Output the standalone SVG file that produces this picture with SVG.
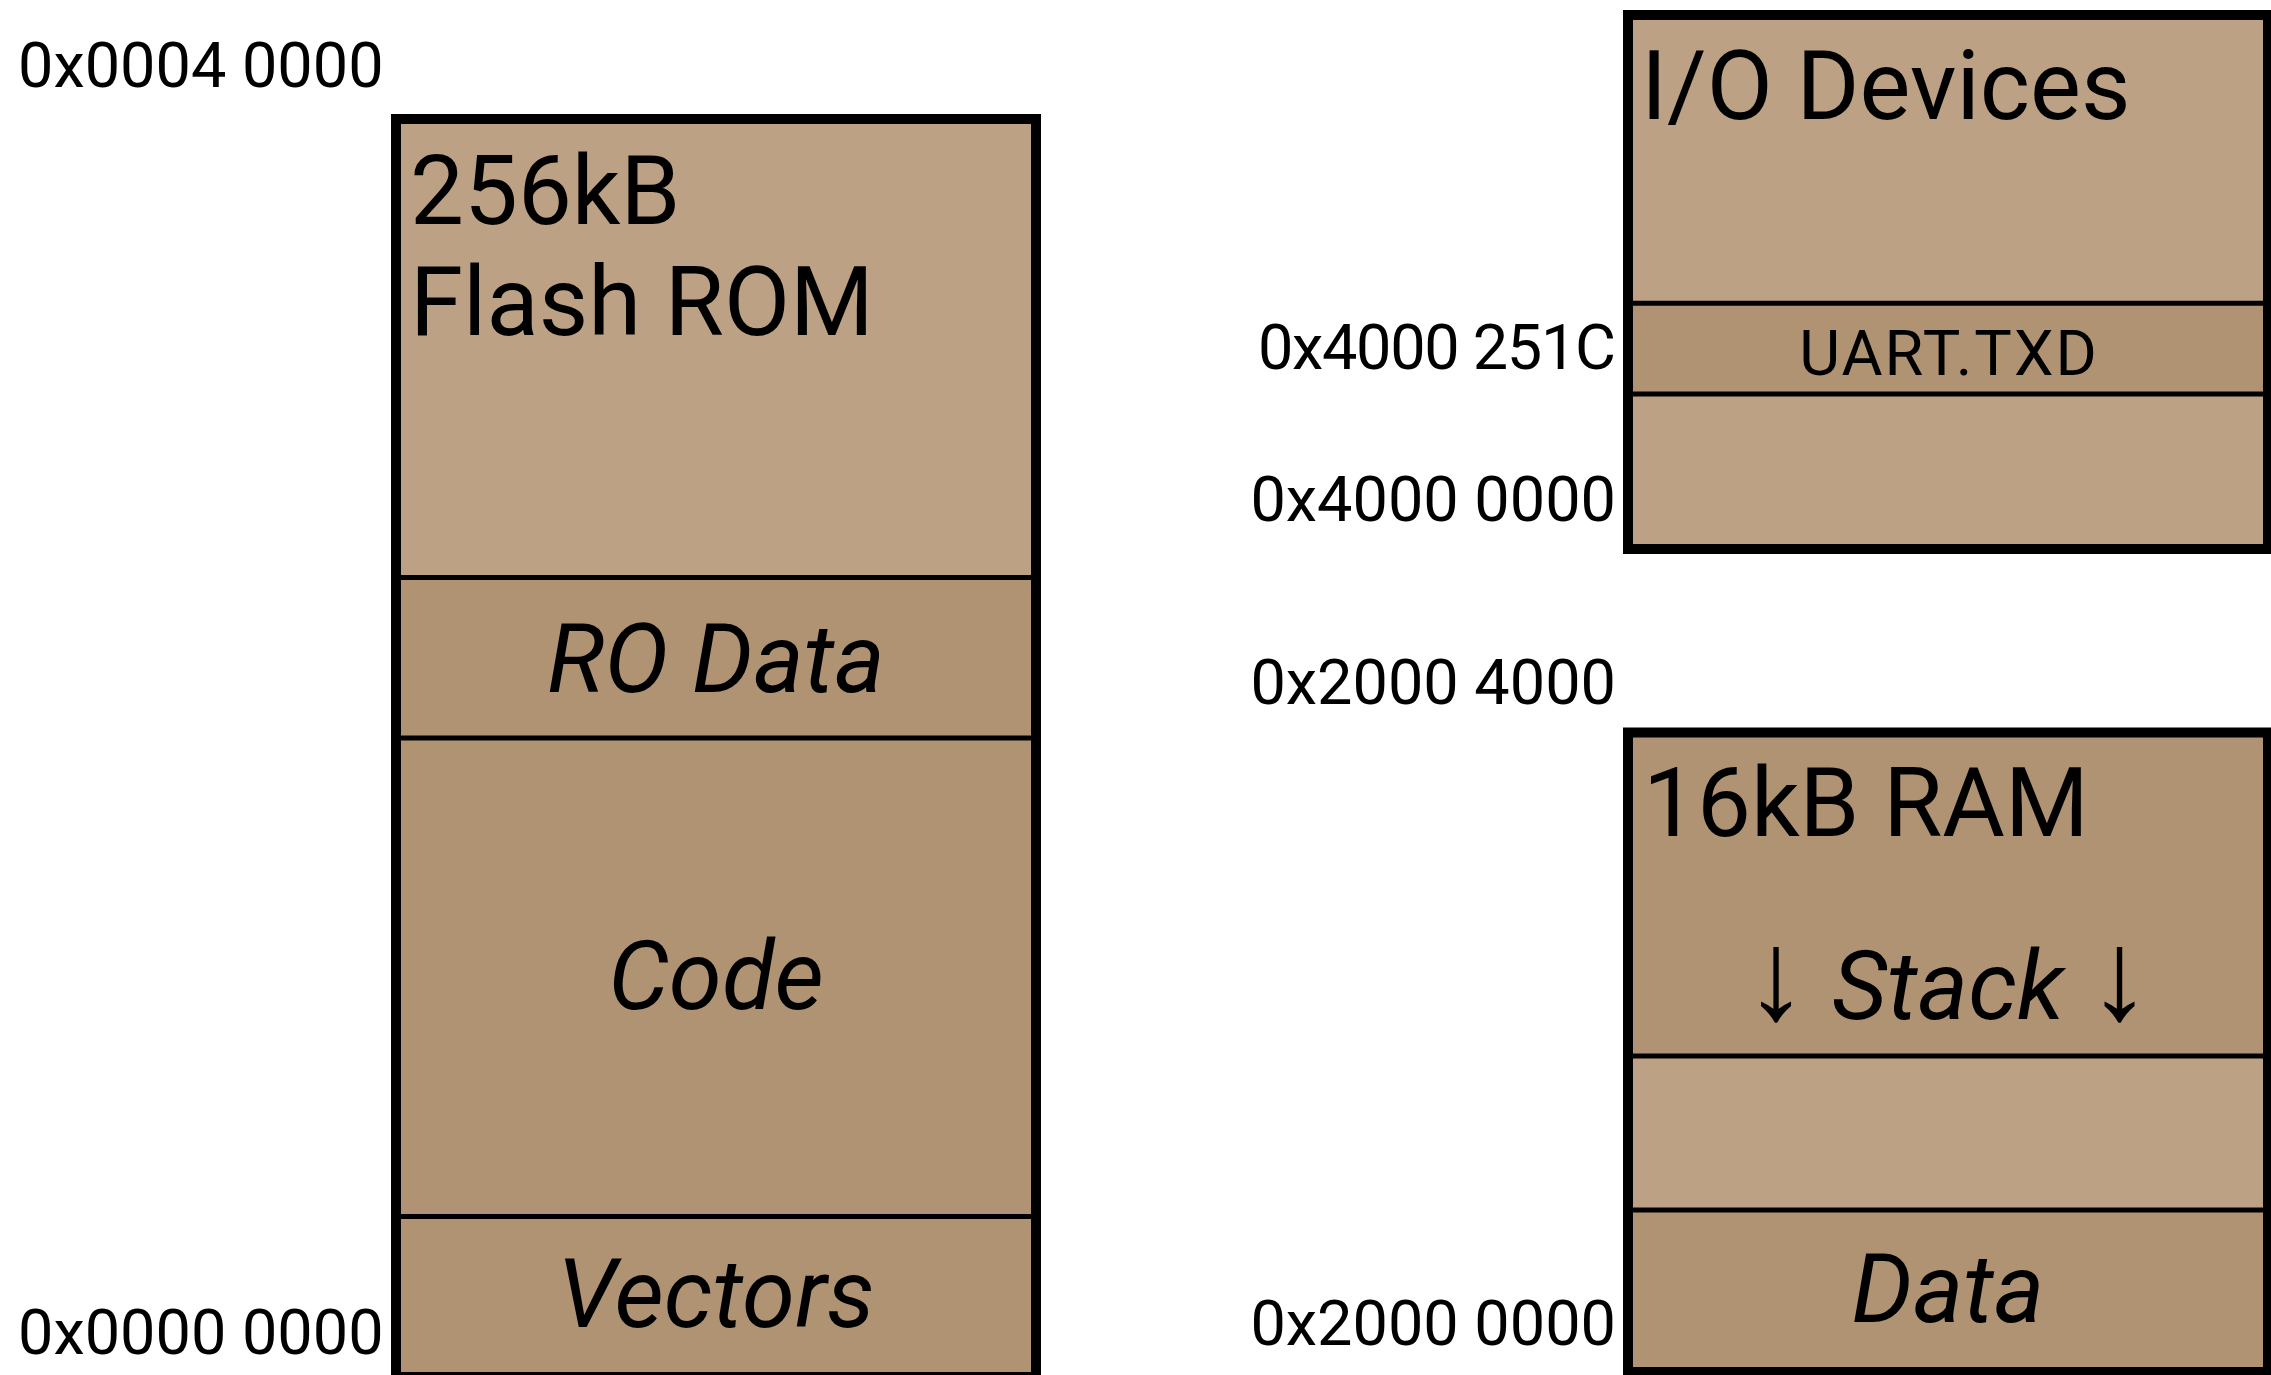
<svg xmlns="http://www.w3.org/2000/svg" width="2271" height="1375" viewBox="0 0 2271 1375">
<style>
  .light { fill: #bca184; }
  .dark { fill: #b09373; }
  .frame { fill: none; stroke: #000; stroke-width: 10; }
  .div { stroke: #000; stroke-width: 5; }
  text { font-family: Roboto, "Liberation Sans", sans-serif; fill: #000; }
  .big { font-size: 96px; }
  .it { font-size: 96px; font-style: italic; text-anchor: middle; }
  .arrow { font-size: 128px; font-style: normal; }
  .addr { font-size: 63px; }
  .addrR { font-size: 63px; text-anchor: end; }
  .uart { font-size: 63px; text-anchor: middle; letter-spacing: 2px; }
</style>
<rect width="2271" height="1375" fill="#fff"/>

<g id="flash">
  <rect class="light" x="396" y="119" width="640" height="458.5"/>
  <rect class="dark" x="396" y="577.5" width="640" height="800"/>
  <line class="div" x1="396" y1="577.5" x2="1036" y2="577.5"/>
  <line class="div" x1="396" y1="738" x2="1036" y2="738"/>
  <line class="div" x1="396" y1="1216.5" x2="1036" y2="1216.5"/>
  <rect class="frame" x="396" y="119" width="640" height="1258"/>
  <text class="big" x="410" y="224">256kB</text>
  <text class="big" x="410" y="335">Flash ROM</text>
  <text class="it" x="716" y="692">RO Data</text>
  <text class="it" x="716" y="1009">Code</text>
  <text class="it" x="716" y="1327">Vectors</text>
</g>

<g id="io">
  <rect class="light" x="1628" y="15" width="640" height="534"/>
  <rect class="dark" x="1628" y="303.3" width="640" height="90.7"/>
  <line class="div" x1="1628" y1="303.3" x2="2268" y2="303.3"/>
  <line class="div" x1="1628" y1="394" x2="2268" y2="394"/>
  <rect class="frame" x="1628" y="15" width="640" height="534"/>
  <text class="big" x="1641" y="119">I/O Devices</text>
  <text class="uart" x="1949" y="375">UART.TXD</text>
</g>

<g id="ram">
  <rect class="dark" x="1628" y="732.5" width="640" height="640"/>
  <rect class="light" x="1628" y="1056" width="640" height="154"/>
  <line class="div" x1="1628" y1="1056" x2="2268" y2="1056"/>
  <line class="div" x1="1628" y1="1210" x2="2268" y2="1210"/>
  <rect class="frame" x="1628" y="732.5" width="640" height="639.5"/>
  <text class="big" x="1643" y="836">16kB RAM</text>
  <text class="it" x="1948" y="1019"><tspan class="arrow">↓</tspan> Stack <tspan class="arrow">↓</tspan></text>
  <text class="it" x="1948" y="1322">Data</text>
</g>

<g id="addresses">
  <text class="addr" x="18" y="87">0x0004 0000</text>
  <text class="addr" x="18" y="1354">0x0000 0000</text>
  <text class="addrR" x="1616" y="369" textLength="358" lengthAdjust="spacing">0x4000 251C</text>
  <text class="addrR" x="1616" y="521">0x4000 0000</text>
  <text class="addrR" x="1616" y="704">0x2000 4000</text>
  <text class="addrR" x="1616" y="1345">0x2000 0000</text>
</g>

<g id="connectors"></g>
</svg>
